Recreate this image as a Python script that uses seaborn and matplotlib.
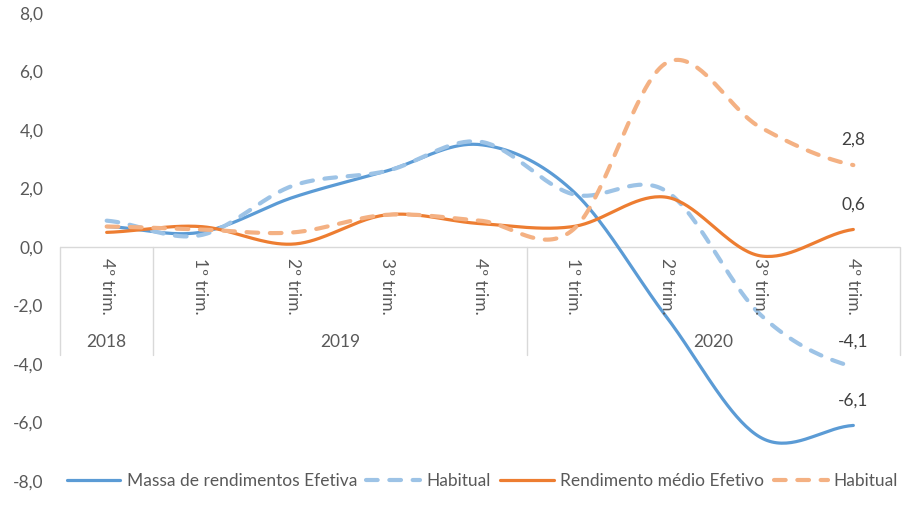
import numpy as np
import pandas as pd
import matplotlib
matplotlib.use("Agg")
import matplotlib.pyplot as plt
import seaborn as sns
from matplotlib.lines import Line2D

# ------------------------------------------------------------
# DATA
# ------------------------------------------------------------
quarters = ["4º trim.", "1º trim.", "2º trim.", "3º trim.", "4º trim.",
            "1º trim.", "2º trim.", "3º trim.", "4º trim."]
years = ["2018", "2019", "2020"]
year_span = [(0, 0), (1, 4), (5, 8)]

massa_efetiva = [0.7, 0.5, 1.7, 2.6, 3.5, 1.9, -2.4, -6.5, -6.1]
massa_habitual = [0.9, 0.4, 2.1, 2.6, 3.6, 1.8, 1.9, -2.3, -4.1]
rend_efetivo = [0.5, 0.7, 0.1, 1.1, 0.8, 0.7, 1.7, -0.3, 0.6]
rend_habitual = [0.7, 0.6, 0.5, 1.1, 0.9, 0.6, 6.3, 4.1, 2.8]

series = [
    ("Massa de rendimentos Efetiva", massa_efetiva, "#5B9BD5", "-"),
    ("Habitual", massa_habitual, "#9DC3E6", "--"),
    ("Rendimento médio Efetivo", rend_efetivo, "#ED7D31", "-"),
    ("Habitual", rend_habitual, "#F4B183", "--"),
]

TEXT = "#595959"
DASH = (0, (2.8, 2.8))


def smooth(y, n=40):
    # Excel-style smoothed line: bezier segments with catmull-rom tangents
    y = np.asarray(y, dtype=float)
    x = np.arange(len(y), dtype=float)
    xs, ys = [], []
    for i in range(len(y) - 1):
        p0 = y[max(i - 1, 0)]
        p3 = y[min(i + 2, len(y) - 1)]
        c1 = y[i] + (y[i + 1] - p0) / 6
        c2 = y[i + 1] - (p3 - y[i]) / 6
        t = np.linspace(0, 1, n, endpoint=(i == len(y) - 2))
        ys.append((1 - t) ** 3 * y[i] + 3 * (1 - t) ** 2 * t * c1
                  + 3 * (1 - t) * t ** 2 * c2 + t ** 3 * y[i + 1])
        xs.append(x[i] + t)
    return np.concatenate(xs), np.concatenate(ys)


sns.set_theme(style="white")
plt.rcParams["font.family"] = ["Lato", "DejaVu Sans"]

fig = plt.figure(figsize=(9.24, 5.08), dpi=100)
ax = fig.add_axes([60 / 924, 27 / 508, 840 / 924, 468 / 508])

for name, vals, color, ls in series:
    xs, ys = smooth(vals)
    df = pd.DataFrame({"x": xs, "y": ys})
    if ls == "-":
        sns.lineplot(data=df, x="x", y="y", ax=ax, color=color, lw=2.3,
                     sort=False, estimator=None, solid_capstyle="round")
    else:
        sns.lineplot(data=df, x="x", y="y", ax=ax, color=color, lw=3.0,
                     sort=False, estimator=None, dashes=False,
                     linestyle=DASH, dash_capstyle="round")
    # data label on last point
    ax.annotate(f"{vals[-1]:.1f}".replace(".", ","), (len(vals) - 1, vals[-1]),
                xytext=(0, 18), textcoords="offset points", ha="center",
                va="center", fontsize=12.5, color="#404040")

ax.set_xlim(-0.5, 8.5)
ax.set_ylim(-8, 8)
ax.set_yticks(np.arange(-8, 9, 2))
ax.set_yticklabels([f"{v:.1f}".replace(".", ",") for v in np.arange(-8, 9, 2)],
                   fontsize=12.5, color=TEXT)
ax.tick_params(axis="y", length=0, pad=12)
ax.set_xticks([])
ax.set_xlabel("")
ax.set_ylabel("")
for s in ax.spines.values():
    s.set_visible(False)

# category axis (Excel multi-level style)
grid_c = "#D9D9D9"
ax.plot([-0.5, 8.5], [0, 0], color=grid_c, lw=1, zorder=0.5)
for b in [-0.5, 0.5, 4.5, 8.5]:
    ax.plot([b, b], [0, -3.69], color=grid_c, lw=1, zorder=0.5, clip_on=False)
for i, q in enumerate(quarters):
    ax.text(i, -0.38, q, rotation=270, ha="center", va="top",
            fontsize=12.5, color=TEXT)
for yr, (a, b) in zip(years, year_span):
    ax.text((a + b) / 2, -3.25, yr, ha="center", va="center",
            fontsize=12.5, color=TEXT)

handles = []
for name, vals, color, ls in series:
    if ls == "-":
        handles.append(Line2D([], [], color=color, lw=2.3, solid_capstyle="round"))
    else:
        handles.append(Line2D([], [], color=color, lw=3.0,
                              linestyle=DASH, dash_capstyle="round"))
labels = [s[0] for s in series]
fig.legend(handles, labels, loc="center", bbox_to_anchor=(0.522, 0.053),
           ncol=4, frameon=False, fontsize=12.5, labelcolor=TEXT,
           handlelength=3.1, handletextpad=0.35, columnspacing=0.55)

fig.savefig("out.png", dpi=100)
